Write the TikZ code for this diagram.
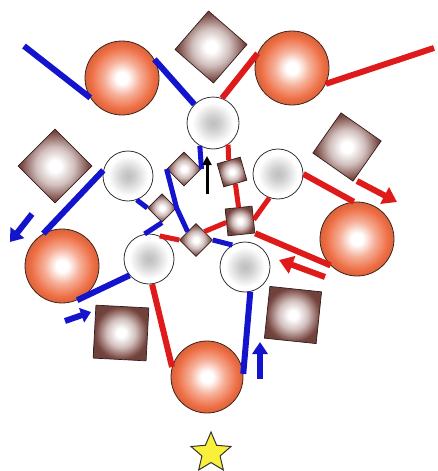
\documentclass[tikz,border=0pt]{standalone}
\usepackage{tikz}
\usetikzlibrary{arrows.meta,shapes.geometric}
\definecolor{ballorange}{RGB}{238,110,68}
\definecolor{tilebrown}{RGB}{122,72,66}
\definecolor{linkblue}{RGB}{20,20,205}
\definecolor{linkred}{RGB}{222,26,26}
\definecolor{starfill}{RGB}{250,240,60}
\pgfdeclareradialshading{ballshade}{\pgfpoint{0bp}{0bp}}{color(0bp)=(white); color(4bp)=(white); color(12bp)=(ballorange!55!white); color(21bp)=(ballorange); color(25bp)=(ballorange!90!black); color(50bp)=(ballorange!90!black)}
\pgfdeclareradialshading{tileshade}{\pgfpoint{0bp}{0bp}}{color(0bp)=(white); color(4bp)=(white); color(13bp)=(tilebrown!35!white); color(23bp)=(tilebrown); color(25bp)=(tilebrown!90!black); color(50bp)=(tilebrown!90!black)}
\pgfdeclareradialshading{siteshade}{\pgfpoint{0bp}{0bp}}{color(0bp)=(black!25); color(6bp)=(black!20); color(20bp)=(white); color(50bp)=(white)}

\begin{document}
\begin{tikzpicture}[
    x=1pt, y=-1pt,
    ball/.style={circle, minimum size=74pt, inner sep=0pt, draw=black!70!ballorange, line width=0.8pt, shading=ballshade},
    site/.style={circle, minimum size=50pt, inner sep=0pt, draw=black!80, line width=0.8pt, shading=siteshade},
    tile/.style={rectangle, minimum size=#1, inner sep=0pt, draw=black!60!tilebrown, line width=0.7pt, shading=tileshade},
    bluelink/.style={linkblue, line width=6pt},
    redlink/.style={linkred, line width=6pt},
    bluearrow/.style={linkblue, line width=6pt, -{Triangle[width=17pt,length=12pt]}},
    redarrow/.style={linkred, line width=6pt, -{Triangle[width=18pt,length=14pt]}}
]
\useasboundingbox (0,0) rectangle (437,471);

% 球
\node[ball] (ballnw) at (122,78) {};
\node[ball] (ballne) at (292,68) {};
\node[ball] (balle) at (357,239) {};
\node[ball] (ballw) at (62,266) {};
\node[ball, minimum size=72pt] (balls) at (207,377) {};

% 大きいタイル
\node[tile=51pt, rotate=-41] (tilen) at (211,47) {};
\node[tile=52pt, rotate=45] (tilew) at (55,166) {};
\node[tile=49pt, rotate=-35] (tilee) at (347,147) {};
\node[tile=53pt, rotate=-3] (tilesw) at (121,333) {};
\node[tile=52pt, rotate=-6] (tilese) at (293,315) {};

% 小さい円
\node[site, minimum size=52pt] (cup) at (213,123) {};
\node[site] (cleft) at (128,176) {};
\node[site] (cright) at (278,174) {};
\node[site] (cbl) at (149,259) {};
\node[site] (cbr) at (245,267) {};

% 小さいタイル
\node[tile=24pt, rotate=45] (tn) at (184,169) {};
\node[tile=24pt, rotate=16] (tne) at (232,172) {};
\node[tile=20pt, rotate=45] (tw) at (162,208) {};
\node[tile=27pt, rotate=6] (tse) at (240,221) {};
\node[tile=23pt, rotate=45] (tc) at (196,240) {};

% 端点
\coordinate (bluestart) at (24,46);
\coordinate (redend) at (434,48);

% 青い線
\draw[bluelink] (bluestart) -- (ballnw.212);
\draw[bluelink] (ballnw.30) -- (cup.135);
\draw[bluelink] (cleft.167) -- (ballw.120);
\draw[bluelink] (ballw.-66) -- (cbl.220);
\draw[bluelink] (cbr.-78) -- (balls.5);
\draw[bluelink, line width=5pt] (cup.240) -- (tn.south east);
\draw[bluelink, line width=5pt] (tn.north west) -- (tw.south east) -- (tc.north);
\draw[bluelink, line width=5pt] (cleft.-70) -- (tw.north west);
\draw[bluelink, line width=5pt] (tw.south west) -- (cbl.100);
\draw[bluelink, line width=5pt] (tc.south east) -- (cbr.120);

% 赤い線
\draw[redlink] (ballne.157) -- (cup.70);
\draw[redlink] (ballne.-25) -- (redend);
\draw[redlink] (cright.east) -- (balle.95);
\draw[redlink] (cbl.-83) -- (balls.164);
\draw[redlink] (tse.south east) -- (balle.225);
\draw[redlink, line width=5pt] (cup.-55) -- (tne.north);
\draw[redlink, line width=5pt] (tne.south) -- (tse.north);
\draw[redlink, line width=5pt] (cright.-110) -- (tse.east);
\draw[redlink, line width=5pt] (cbl.65) -- (tc.north west);
\draw[redlink, line width=5pt] (tc.east) -- (tse.west);

% 矢印
\coordinate (bluearrowA) at (32,214);
\coordinate (bluearrowAend) at (10,242);
\coordinate (bluearrowB) at (65,321);
\coordinate (bluearrowBend) at (91,312);
\coordinate (bluearrowC) at (260,379);
\coordinate (bluearrowCend) at (260,342);
\coordinate (redarrowA) at (357,181);
\coordinate (redarrowAend) at (397,202);
\coordinate (redarrowB) at (325,277);
\coordinate (redarrowBend) at (279,260);
\coordinate (blackarrow) at (207,194);
\coordinate (blackarrowend) at (207,156);
\draw[bluearrow] (bluearrowA) -- (bluearrowAend);
\draw[bluearrow, -{Triangle[width=15pt,length=10pt]}] (bluearrowB) -- (bluearrowBend);
\draw[bluearrow, -{Triangle[width=15pt,length=12pt]}] (bluearrowC) -- (bluearrowCend);
\draw[redarrow] (redarrowA) -- (redarrowAend);
\draw[redarrow] (redarrowB) -- (redarrowBend);
\draw[black, line width=3pt, -{Triangle[width=9pt,length=9pt]}] (blackarrow) -- (blackarrowend);

% 星
\node[star, star points=5, star point ratio=2.2, minimum size=42pt, inner sep=0pt, fill=starfill, draw=black!80, line width=1pt] (goal) at (211,453) {};

\end{tikzpicture}
\end{document}
